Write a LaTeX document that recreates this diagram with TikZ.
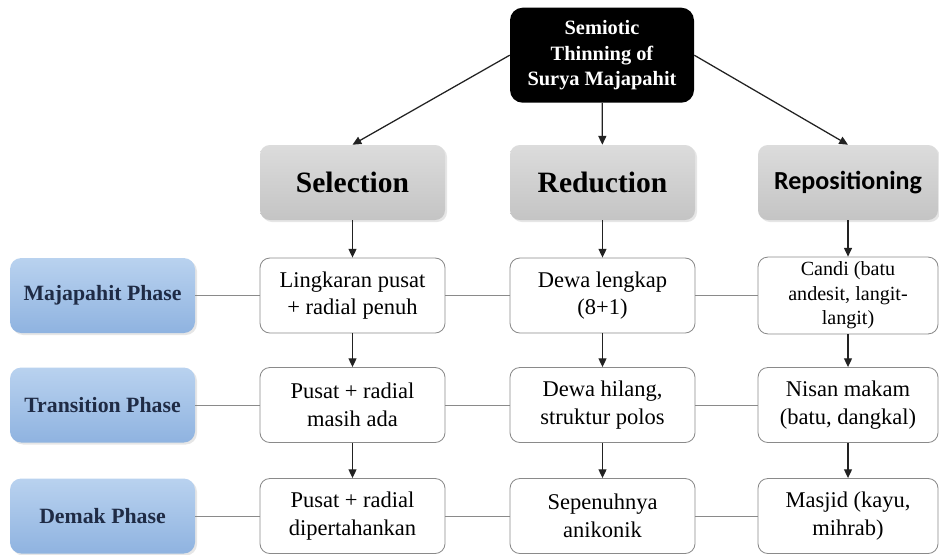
\documentclass[tikz,border=0pt]{standalone}
\usepackage{fontspec}
\setmainfont{Liberation Serif}
\newfontfamily\calibri{Carlito}
\usepackage{xcolor,tikz}
\usetikzlibrary{arrows.meta,positioning,shadows}
\definecolor{ink}{HTML}{222222}
\definecolor{edge}{HTML}{8A8A8A}
\definecolor{navytext}{HTML}{1F2B45}
\definecolor{bluetop}{HTML}{B9D2EF}
\definecolor{bluebot}{HTML}{8FB3E0}
\definecolor{greytop}{HTML}{DCDCDC}
\definecolor{greybot}{HTML}{C4C4C4}
\tikzset{head/.style={fill=black,text=white,rounded corners=9pt,align=center,
  minimum width=46mm,minimum height=23.75mm,font=\fontsize{14.5}{18}\selectfont\bfseries},
  stage/.style={top color=greytop,bottom color=greybot,rounded corners=7pt,align=center,
  minimum width=46.25mm,minimum height=18.75mm,font=\fontsize{21}{24}\selectfont\bfseries,
  drop shadow={opacity=0.2,shadow xshift=0.5mm,shadow yshift=-0.5mm}},
  phase/.style={top color=bluetop,bottom color=bluebot,rounded corners=8pt,align=center,
  minimum width=46.25mm,minimum height=18.75mm,text=navytext,font=\fontsize{15.5}{18}\selectfont\bfseries,
  drop shadow={opacity=0.2,shadow xshift=0.5mm,shadow yshift=-0.5mm}},
  cell/.style={draw=edge,fill=white,rounded corners=7pt,align=center,line width=0.6pt,
  minimum width=46.25mm,minimum height=18.75mm,font=\fontsize{16}{19.5}\selectfont},
  arrow/.style={-{Triangle[length=2.2mm,width=2mm]},line width=0.9pt,draw=ink},
  link/.style={draw=edge,line width=0.6pt}}

\begin{document}
\begin{tikzpicture}
\useasboundingbox (0,0) rectangle (23.475,-13.85);
\node[head] (t) at (15.05,-1.38) {Semiotic\\Thinning of\\Surya Majapahit};
\node[stage] (sel) at (8.8125,-4.5625) {Selection};
\node[stage] (red) at (15.0625,-4.5625) {Reduction};
\node[stage,minimum width=45mm,font=\calibri\fontsize{18.5}{22}\selectfont\bfseries] (rep) at (21.2,-4.5625) {Repositioning};
\node[phase] (p1) at (2.5625,-7.3875) {Majapahit Phase};
\node[phase] (p2) at (2.5625,-10.125) {Transition Phase};
\node[phase] (p3) at (2.5625,-12.9) {Demak Phase};
\node[cell] (sel1) at (8.8125,-7.3875) {Lingkaran pusat\\+ radial penuh};
\node[cell] (red1) at (15.0625,-7.3875) {Dewa lengkap\\(8+1)};
\node[cell,minimum width=45mm,font=\fontsize{14.3}{17.5}\selectfont] (rep1) at (21.2,-7.3875) {Candi (batu\\andesit, langit-\\langit)};
\node[cell] (sel2) at (8.8125,-10.125) {Pusat + radial\\masih ada};
\node[cell] (red2) at (15.0625,-10.125) {Dewa hilang,\\struktur polos};
\node[cell,minimum width=45mm] (rep2) at (21.2,-10.125) {Nisan makam\\(batu, dangkal)};
\node[cell] (sel3) at (8.8125,-12.9) {Pusat + radial\\dipertahankan};
\node[cell] (red3) at (15.0625,-12.9) {Sepenuhnya\\anikonik};
\node[cell,minimum width=45mm] (rep3) at (21.2,-12.9) {Masjid (kayu,\\mihrab)};
% from the title to the three operations
\draw[arrow] (t.west) -- (sel.north);
\draw[arrow] (t) -- (red);
\draw[arrow] (t.east) -- (rep.north);
% down each column
\draw[arrow] (sel) -- (sel1);
\draw[arrow] (sel1) -- (sel2);
\draw[arrow] (sel2) -- (sel3);
\draw[arrow] (red) -- (red1);
\draw[arrow] (red1) -- (red2);
\draw[arrow] (red2) -- (red3);
\draw[arrow] (rep) -- (rep1);
\draw[arrow] (rep1) -- (rep2);
\draw[arrow] (rep2) -- (rep3);
% phase rows
\draw[link] (p1) -- (sel1) (sel1) -- (red1) (red1) -- (rep1);
\draw[link] (p2) -- (sel2) (sel2) -- (red2) (red2) -- (rep2);
\draw[link] (p3) -- (sel3) (sel3) -- (red3) (red3) -- (rep3);
\end{tikzpicture}
\end{document}
